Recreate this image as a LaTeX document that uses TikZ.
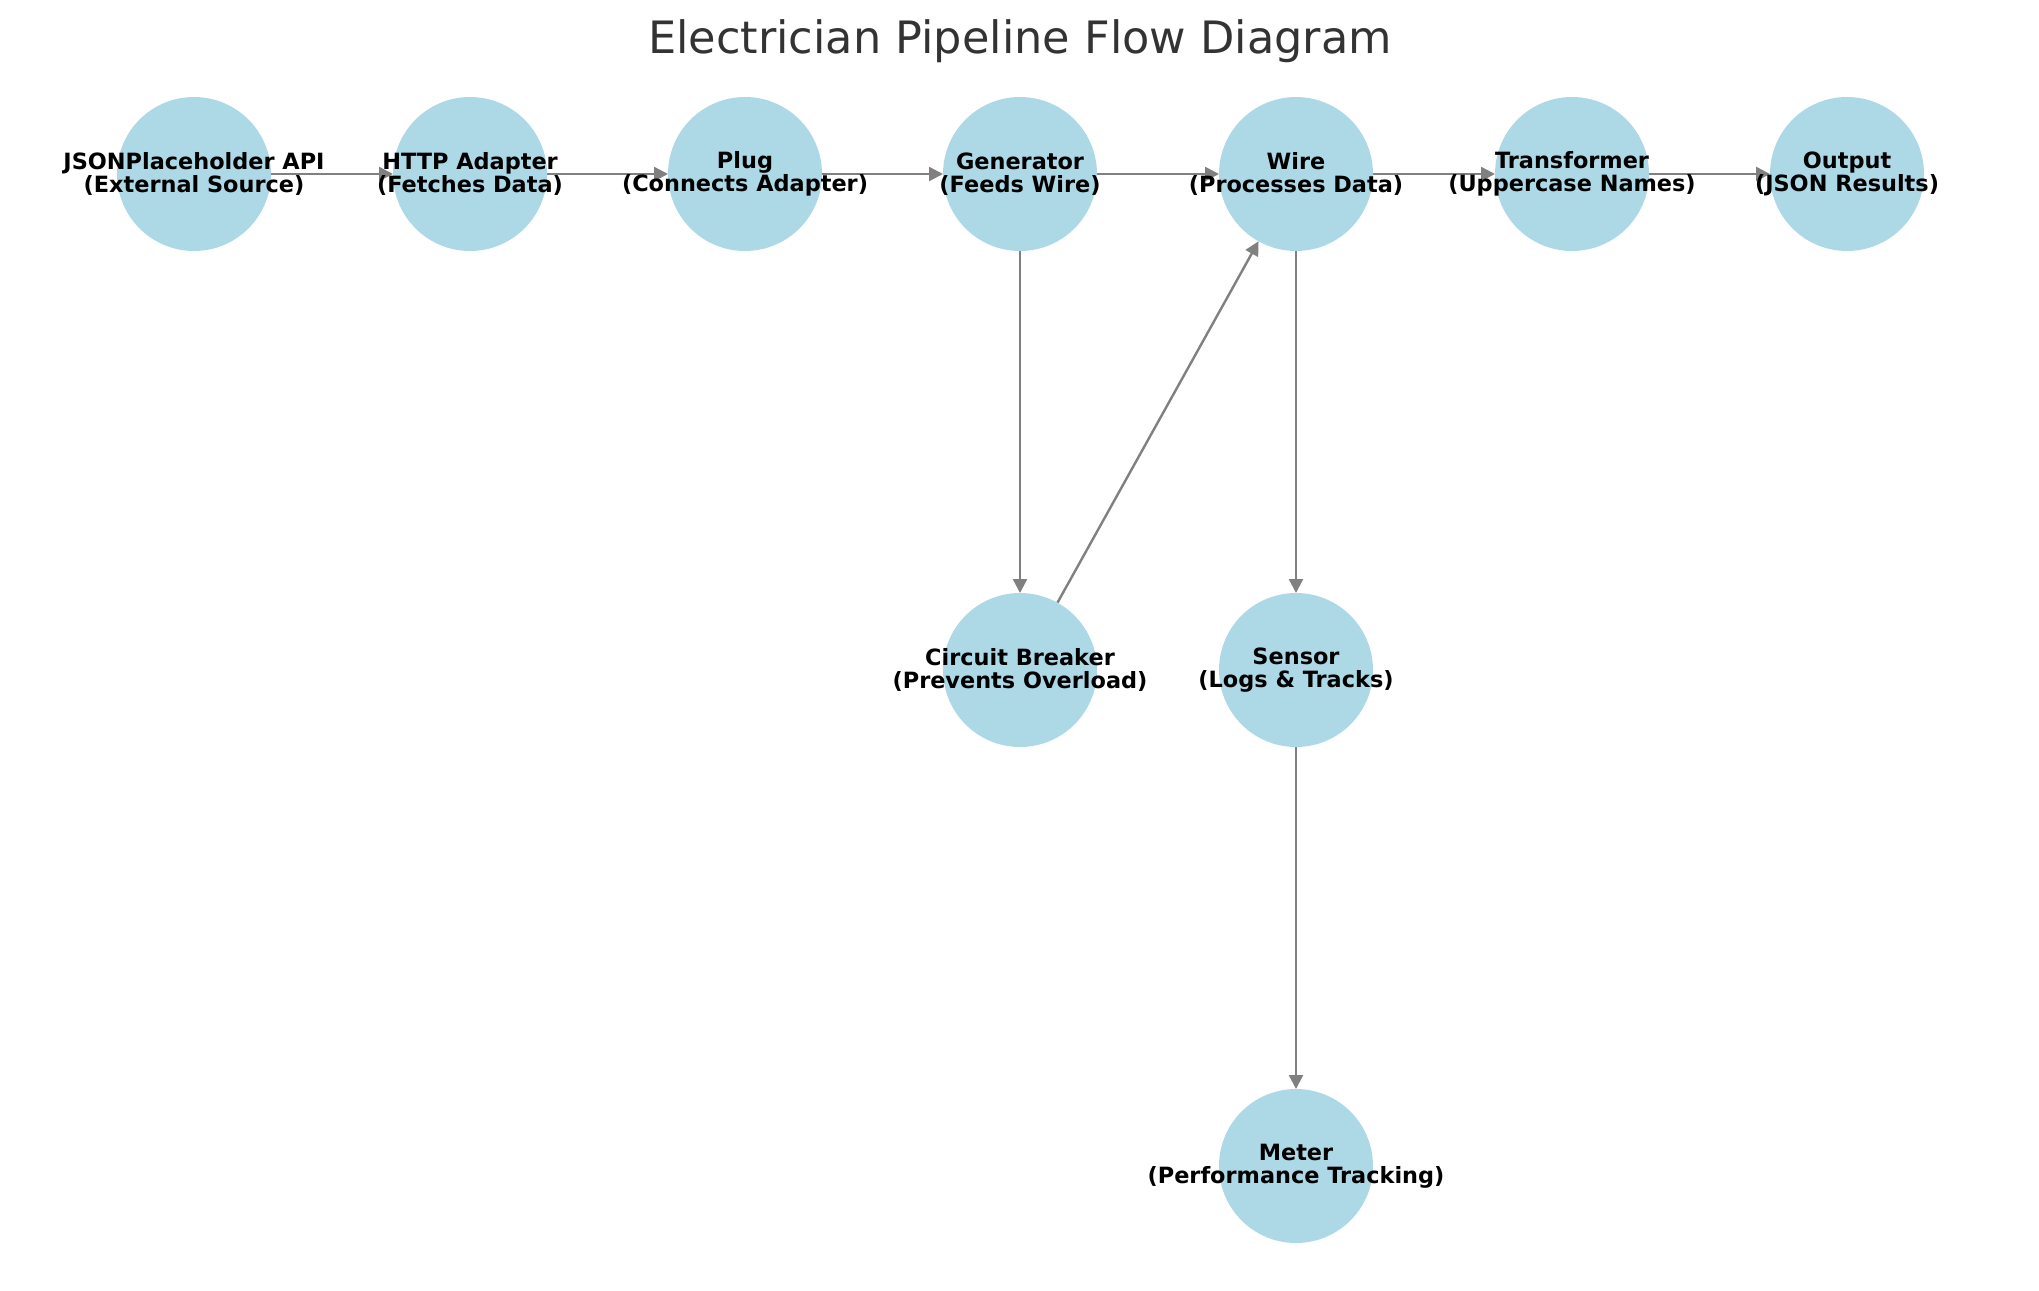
\documentclass[tikz,border=0pt]{standalone}
\usepackage{fontspec}
\setmainfont{DejaVu Sans}
\usetikzlibrary{arrows.meta}
\definecolor{nodeblue}{HTML}{ADD8E6}
\definecolor{edgegray}{HTML}{808080}
\definecolor{titlegray}{HTML}{333333}
\pgfdeclarelayer{bg}
\pgfsetlayers{bg,main}
\begin{document}
\begin{tikzpicture}[x=1pt,y=-1pt,
  dot/.style={circle,fill=nodeblue,minimum size=154pt,inner sep=0pt,outer sep=0pt},
  lbl/.style={font=\bfseries\fontsize{22.4}{23.5}\selectfont,align=center,inner sep=0pt,text=black},
  flow/.style={draw=edgegray,line width=2.4pt,-{Triangle[length=14pt,width=14pt]}}]
\useasboundingbox (0,0) rectangle (2039,1290);
\node[anchor=base,text=titlegray,font=\fontsize{44.6}{52}\selectfont,inner sep=0pt] (title) at (1020,53) {Electrician Pipeline Flow Diagram};
% circles
\node[dot] (json) at (194,174) {};
\node[dot] (http) at (470,174) {};
\node[dot] (plug) at (745,174) {};
\node[dot] (gen) at (1020,174) {};
\node[dot] (wire) at (1296,174) {};
\node[dot] (trans) at (1572,174) {};
\node[dot] (out) at (1847,174) {};
\node[dot] (cb) at (1020,670) {};
\node[dot] (sensor) at (1296,670) {};
\node[dot] (meter) at (1296,1166) {};
% edges
\begin{pgfonlayer}{bg}
\draw[flow] (json) -- (http);
\draw[flow] (http) -- (plug);
\draw[flow] (plug) -- (gen);
\draw[flow] (gen) -- (wire);
\draw[flow] (wire) -- (trans);
\draw[flow] (trans) -- (out);
\draw[flow] (gen) -- (cb);
\draw[flow] (cb) -- (wire);
\draw[flow] (wire) -- (sensor);
\draw[flow] (sensor) -- (meter);
\end{pgfonlayer}
% labels
\node[lbl] (jsonT) at (json) {JSONPlaceholder API\\(External Source)};
\node[lbl] (httpT) at (http) {HTTP Adapter\\(Fetches Data)};
\node[lbl] (plugT) at (plug) {Plug\\(Connects Adapter)};
\node[lbl] (genT) at (gen) {Generator\\(Feeds Wire)};
\node[lbl] (wireT) at (wire) {Wire\\(Processes Data)};
\node[lbl] (transT) at (trans) {Transformer\\(Uppercase Names)};
\node[lbl] (outT) at (out) {Output\\(JSON Results)};
\node[lbl] (cbT) at (cb) {Circuit Breaker\\(Prevents Overload)};
\node[lbl] (sensorT) at (sensor) {Sensor\\(Logs \& Tracks)};
\node[lbl] (meterT) at (meter) {Meter\\(Performance Tracking)};
\end{tikzpicture}
\end{document}
